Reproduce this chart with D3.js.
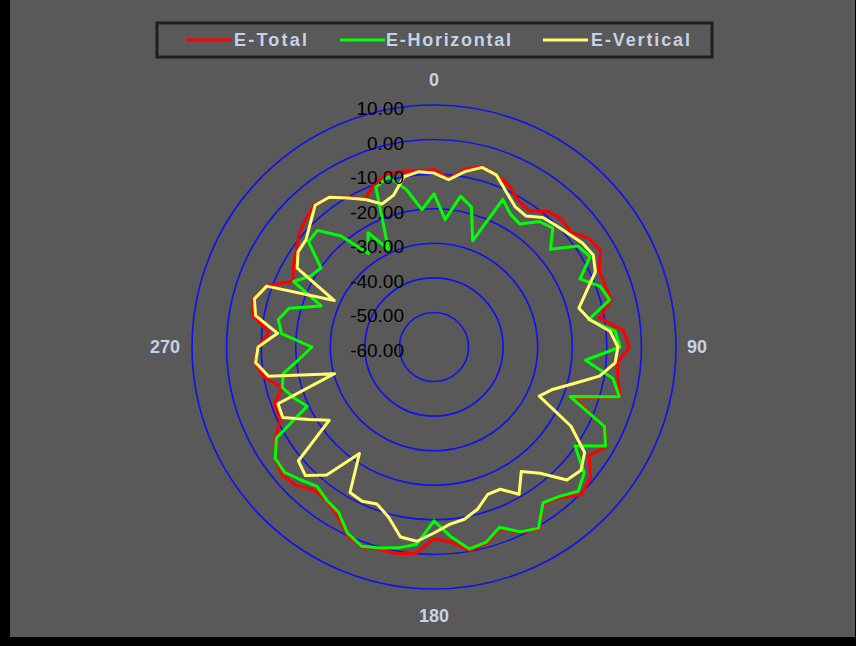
<!DOCTYPE html>
<html><head><meta charset="utf-8">
<script src="https://cdn.jsdelivr.net/npm/d3@7"></script>
<style>html,body{margin:0;padding:0;background:#ffffff;} svg{display:block}</style>
</head><body>
<svg id="chart" width="856" height="646"></svg>
<script>
// ---- data ----
const angles = [0,5,10,15,20,25,30,35,40,45,50,55,60,65,70,75,80,85,90,95,100,105,110,115,120,125,130,135,140,145,150,155,160,165,170,175,180,185,190,195,200,205,210,215,220,225,230,235,240,245,250,255,260,265,270,275,280,285,290,295,300,305,310,315,320,325,330,335,340,345,350,355];
const angleTickLabels = ["0","90","180","270"];
const angleTickValues = [0,90,180,270];
const ringTicks = [10,0,-10,-20,-30,-40,-50,-60];
const seriesNames = ["E-Total","E-Horizontal","E-Vertical"];

const eTotal = [-8.7,-11.1,-7.7,-5.9,-7.1,-8.5,-11.2,-11.9,-8.8,-7.8,-8.3,-5.3,-4.3,-7.3,-7.4,-6.9,-11.4,-5.0,-3.5,-6.8,-5.9,-4.3,-17.1,-5.6,-2.4,-5.2,-0.9,0.3,-3.1,-4.7,0.8,-0.8,-4.1,-1.2,-0.2,-3.4,-4.6,-0.1,0.7,0.7,1.5,-0.3,-3.9,-5.8,-6.0,-3.4,-2.5,-3.9,-7.1,-11.0,-10.8,-14.5,-10.0,-8.0,-9.0,-12.1,-6.8,-5.8,-8.4,-15.0,-13.0,-11.4,-9.1,-7.6,-6.2,-7.1,-9.9,-12.8,-9.7,-8.0,-8.5,-8.8];
const eHorizontal = [-15.7,-23.0,-15.7,-18.1,-27.3,-12.9,-15.7,-16.6,-12.6,-11.4,-16.0,-9.1,-7.9,-13.4,-8.8,-7.4,-14.6,-7.4,-6.2,-16.0,-7.4,-4.5,-18.1,-5.6,-2.7,-10.2,-3.3,-1.0,-3.6,-5.0,0.5,-1.0,-4.5,-1.6,-0.7,-5.0,-9.7,-2.7,-1.0,0.2,1.3,-0.7,-4.8,-5.9,-7.4,-5.6,-3.6,-3.9,-7.4,-19.5,-16.9,-14.6,-15.7,-21.0,-24.7,-15.7,-14.3,-16.6,-25.3,-15.2,-18.9,-20.1,-12.6,-12.3,-18.1,-27.0,-21.8,-28.8,-10.8,-9.1,-13.7,-20.1];
const eVertical = [-9.7,-11.4,-8.5,-6.2,-7.1,-10.5,-13.1,-13.7,-11.1,-10.2,-9.1,-7.6,-6.8,-8.5,-13.1,-16.6,-14.3,-8.8,-6.8,-7.4,-11.4,-18.6,-23.8,-26.4,-14.3,-6.8,-4.5,-5.6,-12.3,-16.0,-10.8,-14.6,-14.6,-11.4,-9.4,-8.5,-6.2,-3.6,-4.2,-9.1,-11.7,-10.8,-11.4,-22.4,-11.7,-7.4,-8.8,-23.0,-18.1,-11.7,-12.0,-30.2,-11.4,-8.2,-9.1,-14.6,-7.6,-6.2,-8.5,-28.2,-14.3,-12.0,-11.7,-9.4,-6.5,-7.1,-10.2,-12.9,-16.0,-14.6,-10.0,-9.1];

const seriesValues = [eTotal, eHorizontal, eVertical];
const seriesColors = ["#ff0000", "#00ff00", "#ffff6e"];

// ---- layout ----
const W = 856, H = 646;
const cx = 434, cy = 347, R = 242;
const svg = d3.select("#chart");

svg.append("rect").attr("x",0).attr("y",0).attr("width",W).attr("height",H).attr("fill","#000");
svg.append("rect").attr("x",10).attr("y",0).attr("width",845).attr("height",637).attr("fill","#595959");

const r = d3.scaleLinear().domain([-60, 10]).range([0, R]);
const a = d3.scaleLinear().domain([0, 360]).range([0, 2 * Math.PI]);

const g = svg.append("g").attr("transform", `translate(${cx},${cy})`);

// rings
g.selectAll("circle.ring").data(ringTicks.filter(v => v > -60)).join("circle")
  .attr("class","ring").attr("r", d => r(d))
  .attr("fill","none").attr("stroke","#1010f0").attr("stroke-width",1.6);

// series lines
const line = d3.lineRadial()
  .angle((d, i) => a(angles[i]))
  .radius(d => r(d))
  .curve(d3.curveLinearClosed);

seriesValues.forEach((vals, k) => {
  g.append("path").datum(vals)
    .attr("d", line)
    .attr("fill","none")
    .attr("stroke", seriesColors[k])
    .attr("stroke-width", 3)
    .attr("stroke-linejoin","round");
});

// ring labels
g.selectAll("text.rl").data(ringTicks).join("text")
  .attr("class","rl")
  .attr("x", -30).attr("y", d => -r(d) + 10)
  .attr("text-anchor","end")
  .attr("font-family","Liberation Sans, Arial, sans-serif")
  .attr("font-size", 19)
  .attr("fill","#000")
  .text(d => d.toFixed(2));

// angle labels
angleTickValues.forEach((v, i) => {
  let x = 0, y = 0, anchor = "middle";
  if (v === 0) { y = -R - 25; }
  if (v === 180) { y = R + 27; }
  if (v === 90) { anchor = "start"; x = R + 11; }
  if (v === 270) { anchor = "end"; x = -R - 12; }
  g.append("text")
    .attr("x", x).attr("y", y + 6)
    .attr("text-anchor", anchor)
    .attr("font-family","Liberation Sans, Arial, sans-serif")
    .attr("font-size", 18).attr("font-weight","bold")
    .attr("fill","#c5d3e6")
    .text(angleTickLabels[i]);
});

// legend
const lg = svg.append("g");
lg.append("rect").attr("x",157).attr("y",23).attr("width",555).attr("height",34)
  .attr("fill","#595959").attr("stroke","#1e1e1e").attr("stroke-width",3);
const legendItems = [
  {lx: 186, tx: 234, tw: 73},
  {lx: 340, tx: 386, tw: 125},
  {lx: 543, tx: 591, tw: 99}
];
legendItems.forEach((it, k) => {
  lg.append("line").attr("x1", it.lx).attr("x2", it.lx + 45)
    .attr("y1", 40).attr("y2", 40)
    .attr("stroke", seriesColors[k]).attr("stroke-width", 3);
  lg.append("text").attr("x", it.tx).attr("y", 46)
    .attr("font-family","Liberation Sans, Arial, sans-serif")
    .attr("font-size", 18).attr("font-weight","bold")
    .attr("fill","#c5d3e6")
    .attr("textLength", it.tw).attr("lengthAdjust","spacing")
    .text(seriesNames[k]);
});
</script>
</body></html>
